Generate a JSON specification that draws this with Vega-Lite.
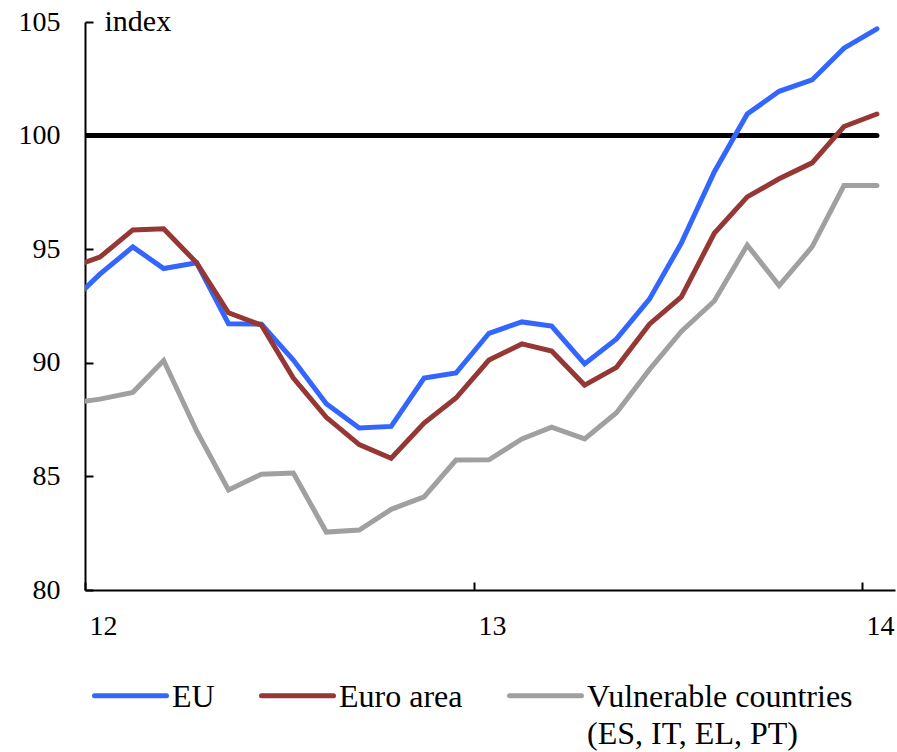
{
  "$schema": "https://vega.github.io/schema/vega-lite/v6.json",
  "width": 810,
  "height": 568,
  "autosize": "none",
  "padding": {"left": 85, "top": 22, "right": 2, "bottom": 162},
  "background": "white",
  "config": {
    "view": {"stroke": null},
    "font": "Liberation Serif",
    "axis": {"labelFont": "Liberation Serif", "labelFontSize": 28, "labelColor": "black", "domainColor": "black", "tickColor": "black", "domainWidth": 2, "tickWidth": 2, "grid": false, "titleFont": "Liberation Serif"}
  },
  "datasets": {
    "series": [
      {"s": "Vulnerable countries", "d": "2011-12-15", "v": 88.2},
      {"s": "Vulnerable countries", "d": "2012-01-15", "v": 88.4},
      {"s": "Vulnerable countries", "d": "2012-02-15", "v": 88.7},
      {"s": "Vulnerable countries", "d": "2012-03-15", "v": 90.1},
      {"s": "Vulnerable countries", "d": "2012-04-15", "v": 87.0},
      {"s": "Vulnerable countries", "d": "2012-05-15", "v": 84.4},
      {"s": "Vulnerable countries", "d": "2012-06-15", "v": 85.1},
      {"s": "Vulnerable countries", "d": "2012-07-15", "v": 85.15},
      {"s": "Vulnerable countries", "d": "2012-08-15", "v": 82.55},
      {"s": "Vulnerable countries", "d": "2012-09-15", "v": 82.64},
      {"s": "Vulnerable countries", "d": "2012-10-15", "v": 83.55},
      {"s": "Vulnerable countries", "d": "2012-11-15", "v": 84.1},
      {"s": "Vulnerable countries", "d": "2012-12-15", "v": 85.72},
      {"s": "Vulnerable countries", "d": "2013-01-15", "v": 85.73},
      {"s": "Vulnerable countries", "d": "2013-02-15", "v": 86.65},
      {"s": "Vulnerable countries", "d": "2013-03-15", "v": 87.17},
      {"s": "Vulnerable countries", "d": "2013-04-15", "v": 86.65},
      {"s": "Vulnerable countries", "d": "2013-05-15", "v": 87.8},
      {"s": "Vulnerable countries", "d": "2013-06-15", "v": 89.7},
      {"s": "Vulnerable countries", "d": "2013-07-15", "v": 91.38},
      {"s": "Vulnerable countries", "d": "2013-08-15", "v": 92.72},
      {"s": "Vulnerable countries", "d": "2013-09-15", "v": 95.18},
      {"s": "Vulnerable countries", "d": "2013-10-15", "v": 93.4},
      {"s": "Vulnerable countries", "d": "2013-11-15", "v": 95.1},
      {"s": "Vulnerable countries", "d": "2013-12-15", "v": 97.8},
      {"s": "Vulnerable countries", "d": "2014-01-15", "v": 97.8},
      {"s": "EU", "d": "2011-12-15", "v": 92.5},
      {"s": "EU", "d": "2012-01-15", "v": 93.9},
      {"s": "EU", "d": "2012-02-15", "v": 95.1},
      {"s": "EU", "d": "2012-03-15", "v": 94.15},
      {"s": "EU", "d": "2012-04-15", "v": 94.4},
      {"s": "EU", "d": "2012-05-15", "v": 91.72},
      {"s": "EU", "d": "2012-06-15", "v": 91.7},
      {"s": "EU", "d": "2012-07-15", "v": 90.12},
      {"s": "EU", "d": "2012-08-15", "v": 88.2},
      {"s": "EU", "d": "2012-09-15", "v": 87.13},
      {"s": "EU", "d": "2012-10-15", "v": 87.2},
      {"s": "EU", "d": "2012-11-15", "v": 89.33},
      {"s": "EU", "d": "2012-12-15", "v": 89.55},
      {"s": "EU", "d": "2013-01-15", "v": 91.3},
      {"s": "EU", "d": "2013-02-15", "v": 91.8},
      {"s": "EU", "d": "2013-03-15", "v": 91.62},
      {"s": "EU", "d": "2013-04-15", "v": 89.95},
      {"s": "EU", "d": "2013-05-15", "v": 91.05},
      {"s": "EU", "d": "2013-06-15", "v": 92.8},
      {"s": "EU", "d": "2013-07-15", "v": 95.27},
      {"s": "EU", "d": "2013-08-15", "v": 98.4},
      {"s": "EU", "d": "2013-09-15", "v": 100.95},
      {"s": "EU", "d": "2013-10-15", "v": 101.95},
      {"s": "EU", "d": "2013-11-15", "v": 102.45},
      {"s": "EU", "d": "2013-12-15", "v": 103.85},
      {"s": "EU", "d": "2014-01-15", "v": 104.7},
      {"s": "Euro area", "d": "2011-12-15", "v": 94.15},
      {"s": "Euro area", "d": "2012-01-15", "v": 94.65},
      {"s": "Euro area", "d": "2012-02-15", "v": 95.85},
      {"s": "Euro area", "d": "2012-03-15", "v": 95.9},
      {"s": "Euro area", "d": "2012-04-15", "v": 94.4},
      {"s": "Euro area", "d": "2012-05-15", "v": 92.2},
      {"s": "Euro area", "d": "2012-06-15", "v": 91.66},
      {"s": "Euro area", "d": "2012-07-15", "v": 89.33},
      {"s": "Euro area", "d": "2012-08-15", "v": 87.6},
      {"s": "Euro area", "d": "2012-09-15", "v": 86.4},
      {"s": "Euro area", "d": "2012-10-15", "v": 85.8},
      {"s": "Euro area", "d": "2012-11-15", "v": 87.35},
      {"s": "Euro area", "d": "2012-12-15", "v": 88.45},
      {"s": "Euro area", "d": "2013-01-15", "v": 90.12},
      {"s": "Euro area", "d": "2013-02-15", "v": 90.83},
      {"s": "Euro area", "d": "2013-03-15", "v": 90.52},
      {"s": "Euro area", "d": "2013-04-15", "v": 89.02},
      {"s": "Euro area", "d": "2013-05-15", "v": 89.8},
      {"s": "Euro area", "d": "2013-06-15", "v": 91.7},
      {"s": "Euro area", "d": "2013-07-15", "v": 92.9},
      {"s": "Euro area", "d": "2013-08-15", "v": 95.7},
      {"s": "Euro area", "d": "2013-09-15", "v": 97.3},
      {"s": "Euro area", "d": "2013-10-15", "v": 98.1},
      {"s": "Euro area", "d": "2013-11-15", "v": 98.8},
      {"s": "Euro area", "d": "2013-12-15", "v": 100.4},
      {"s": "Euro area", "d": "2014-01-15", "v": 100.95}
    ],
    "ref": [
      {"d": "2011-12-15", "v": 100},
      {"d": "2014-01-15", "v": 100}
    ]
  },
  "layer": [
    {
      "data": {"name": "ref"},
      "mark": {"type": "line", "color": "black", "strokeWidth": 5, "strokeCap": "round", "clip": true},
      "encoding": {
        "x": {"field": "d", "type": "temporal", "scale": {"type": "utc", "domain": [{"year": 2012, "month": 1, "date": 1, "utc": true}, {"year": 2014, "month": 2, "date": 1, "utc": true}]},
          "axis": {"title": null, "format": "%y", "values": [{"year": 2012, "month": 1, "date": 1, "utc": true}, {"year": 2013, "month": 1, "date": 1, "utc": true}, {"year": 2014, "month": 1, "date": 1, "utc": true}], "tickSize": -8, "labelOffset": 18, "labelPadding": 30, "labelFlush": false, "labelOverlap": false}},
        "y": {"field": "v", "type": "quantitative", "scale": {"domain": [80, 105], "nice": false, "zero": false},
          "axis": {"values": [80, 85, 90, 95, 100, 105], "tickSize": -8, "labelPadding": 33, "title": "index", "titleAngle": 0, "titleAlign": "left", "titleBaseline": "alphabetic", "titleX": 19, "titleY": 8, "titleFontSize": 30, "titleFontWeight": "normal", "titleColor": "black"}}
      }
    },
    {
      "data": {"name": "series"},
      "mark": {"type": "line", "strokeWidth": 5, "strokeCap": "round", "strokeJoin": "miter", "clip": true},
      "encoding": {
        "x": {"field": "d", "type": "temporal"},
        "y": {"field": "v", "type": "quantitative"},
        "color": {
          "field": "s", "type": "nominal",
          "scale": {"domain": ["EU", "Euro area", "Vulnerable countries"], "range": ["#3366FF", "#953735", "#A0A0A0"]},
          "legend": {
            "title": null, "orient": "none", "legendX": 7, "legendY": 635, "direction": "horizontal",
            "symbolType": "stroke", "symbolSize": 5184, "symbolStrokeWidth": 5,
            "labelFont": "Liberation Serif", "labelFontSize": 32, "labelColor": "black", "labelLimit": 0,
            "labelOffset": 3, "columnPadding": 36, "labelBaseline": "alphabetic",
            "labelExpr": "datum.label == 'Vulnerable countries' ? ['Vulnerable countries', '(ES, IT, EL, PT)'] : [datum.label, '']",
            "encode": {"labels": {"update": {"lineHeight": {"value": 37}, "dy": {"value": 11}}}, "symbols": {"update": {"strokeCap": {"value": "round"}}}}
          }
        }
      }
    }
  ]
}
